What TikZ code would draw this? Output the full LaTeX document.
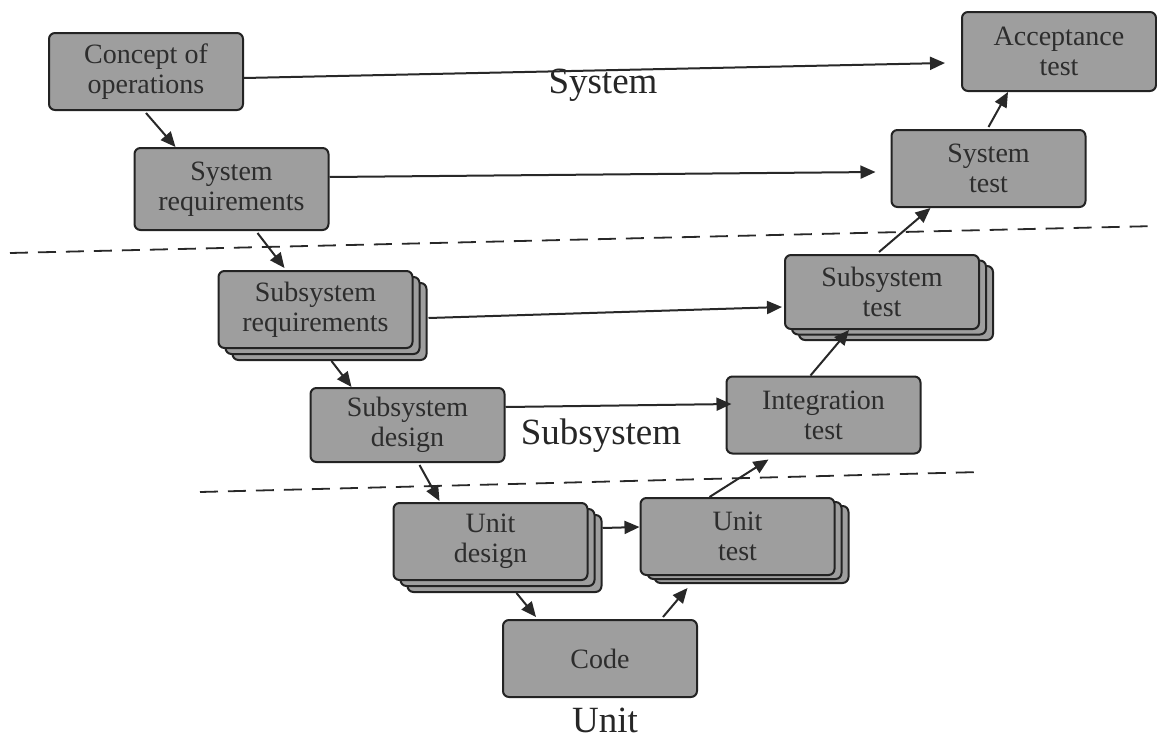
\documentclass[tikz,border=0pt]{standalone}
\usepackage{fontspec}
\setmainfont{Liberation Serif}
\usetikzlibrary{arrows.meta}
\definecolor{boxfill}{RGB}{158,158,158}
\definecolor{boxline}{RGB}{35,35,35}
\definecolor{boxtext}{RGB}{45,45,45}
\definecolor{inkline}{RGB}{40,40,40}
\begin{document}
\begin{tikzpicture}[x=0.5pt,y=-0.5pt,
  card/.style={draw=boxline, fill=boxfill, line width=1pt, rounded corners=3pt,
    minimum width=97pt, minimum height=38.5pt, inner sep=0pt, align=center,
    text=boxtext, font=\fontsize{14}{15}\selectfont},
  flow/.style={draw=inkline, line width=1pt,
    -{Triangle[length=7.5pt,width=6.5pt]}},
  level/.style={draw=inkline, line width=0.9pt, dash pattern=on 9pt off 5pt},
  tier/.style={font=\fontsize{18.5}{20}\selectfont, text=black!85}]
\useasboundingbox (0,0) rectangle (1157,740);

% left leg: specification and design
\node[card] (concept) at (146,71.5) {Concept of\\operations};
\node[card, minimum height=41pt] (sysreq) at (231.5,189) {System\\requirements};
\node[card] (ssreq-b2) at (329.5,321.5) {};
\node[card] (ssreq-b1) at (322.5,315.5) {};
\node[card] (ssreq) at (315.5,309.5) {Subsystem\\requirements};
\node[card, minimum height=37pt] (ssdes) at (407.5,425) {Subsystem\\design};
\node[card] (udes-b2) at (504.5,553.5) {};
\node[card] (udes-b1) at (497.5,547.5) {};
\node[card] (udes) at (490.5,541.5) {Unit\\design};

% bottom
\node[card] (code) at (600,658.5) {Code};

% right leg: integration and testing
\node[card] (utest-b2) at (751.5,544.5) {};
\node[card] (utest-b1) at (744.5,540.5) {};
\node[card] (utest) at (737.5,536.5) {Unit\\test};
\node[card] (integ) at (823.5,415) {Integration\\test};
\node[card, minimum height=37pt] (sstest-b2) at (896,303) {};
\node[card, minimum height=37pt] (sstest-b1) at (889,297.5) {};
\node[card, minimum height=37pt] (sstest) at (882,292) {Subsystem\\test};
\node[card] (systest) at (988.5,168.5) {System\\test};
\node[card, minimum height=39.5pt] (acc) at (1059,51.5) {Acceptance\\test};

% level separators
\draw[level] (10,253) -- (1157,226);
\draw[level] (200,492) -- (980,472);

% level names
\node[tier] (lsys) at (603,85) {System};
\node[tier] (lsub) at (601,436) {Subsystem};
\node[tier] (lunit) at (605,720) {Unit};

% down the V
\draw[flow] ([yshift=-1pt]concept.south) -- ([xshift=21pt]sysreq.north west);
\draw[flow] ([xshift=13pt,yshift=-1pt]sysreq.south) -- ([xshift=33.5pt,yshift=1pt]ssreq.north west);
\draw[flow] ([xshift=8pt,yshift=-6pt]ssreq.south) -- ([xshift=21pt]ssdes.north west);
\draw[flow] ([xshift=6pt,yshift=-1pt]ssdes.south) -- ([xshift=23.5pt,yshift=0.5pt]udes.north west);
\draw[flow] ([xshift=13pt,yshift=-6pt]udes.south) -- ([xshift=17pt,yshift=1pt]code.north west);

% up the V
\draw[flow] ([xshift=-17.5pt,yshift=1pt]code.north east) -- ([xshift=-25pt,yshift=-6pt]utest.south);
\draw[flow] ([xshift=35pt]utest.north west) -- ([xshift=21.5pt,yshift=-2.5pt]integ.south west);
\draw[flow] ([xshift=42.5pt]integ.north west) -- ([xshift=32.5pt]sstest.south west);
\draw[flow] ([xshift=47.5pt,yshift=1pt]sstest.north west) -- ([xshift=20pt]systest.south west);
\draw[flow] ([yshift=1pt]systest.north) -- ([xshift=23.5pt]acc.south west);

% verification links across the V
\draw[flow] ([yshift=-3.25pt]concept.east) -- ([xshift=-8pt,yshift=-5.75pt]acc.west);
\draw[flow] ([yshift=6pt]sysreq.east) -- ([xshift=-7.5pt,yshift=-1.75pt]systest.west);
\draw[flow] ([xshift=7.5pt,yshift=-4.25pt]ssreq.east) -- ([xshift=-1pt,yshift=-7.5pt]sstest.west);
\draw[flow] ([yshift=9pt]ssdes.east) -- ([xshift=3pt,yshift=5.5pt]integ.west);
\draw[flow] ([xshift=7pt,yshift=6.75pt]udes.east) -- ([yshift=4.75pt]utest.west);
\end{tikzpicture}
\end{document}
